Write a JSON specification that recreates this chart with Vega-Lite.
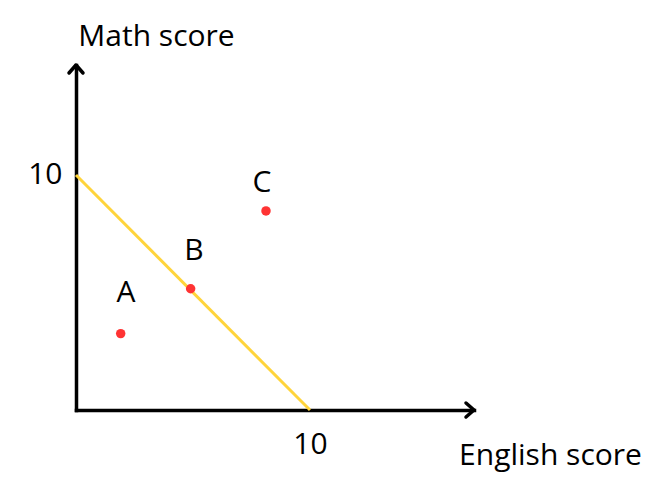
{
  "$schema": "https://vega.github.io/schema/vega-lite/v6.json",
  "width": 398,
  "height": 345,
  "autosize": "none",
  "padding": {"left": 76, "top": 65, "right": 188, "bottom": 79},
  "background": "white",
  "config": {
    "view": {"stroke": null},
    "font": "Open Sans",
    "axis": {
      "domainColor": "black",
      "domainWidth": 3.5,
      "domainCap": "square",
      "ticks": false,
      "tickSize": 0,
      "grid": false,
      "labelFontSize": 30,
      "labelColor": "black",
      "labelFont": "Open Sans",
      "labelFlush": false,
      "labelOverlap": false,
      "titleFontSize": 30,
      "titleFontWeight": "normal",
      "titleColor": "black",
      "titleFont": "Open Sans"
    }
  },
  "layer": [
    {
      "data": {"values": [{"x": 0, "y": 10, "x2": 10, "y2": 0}]},
      "mark": {"type": "rule", "color": "#FFD43B", "strokeWidth": 3},
      "encoding": {
        "x": {
          "field": "x", "type": "quantitative",
          "scale": {"domain": [0, 17.01], "nice": false, "zero": false},
          "axis": {
            "title": "English score",
            "values": [10],
            "labelPadding": 43,
            "labelBaseline": "alphabetic",
            "titleX": 474,
            "titleY": 54,
            "titleAlign": "center",
            "titleBaseline": "alphabetic",
            "titleAnchor": null
          }
        },
        "y": {
          "field": "y", "type": "quantitative",
          "scale": {"domain": [0, 14.68], "nice": false, "zero": false},
          "axis": {
            "title": "Math score",
            "values": [10],
            "labelPadding": 14,
            "labelBaseline": "middle",
            "titleAngle": 0,
            "titleX": 80,
            "titleY": -20,
            "titleAlign": "center",
            "titleBaseline": "alphabetic",
            "titleAnchor": null
          }
        },
        "x2": {"field": "x2"},
        "y2": {"field": "y2"}
      }
    },
    {
      "data": {"values": [
        {"label": "A", "x": 1.91, "y": 3.25, "lx": 2.14, "ly": 4.98},
        {"label": "B", "x": 4.9, "y": 5.16, "lx": 5.04, "ly": 6.77},
        {"label": "C", "x": 8.12, "y": 8.47, "lx": 7.95, "ly": 9.66}
      ]},
      "layer": [
        {
          "mark": {"type": "point", "shape": "circle", "filled": true, "size": 90, "color": "#FF3333", "opacity": 1},
          "encoding": {
            "x": {"field": "x", "type": "quantitative"},
            "y": {"field": "y", "type": "quantitative"}
          }
        },
        {
          "mark": {"type": "text", "fontSize": 30, "font": "Open Sans", "color": "black", "baseline": "middle", "align": "center"},
          "encoding": {
            "x": {"field": "lx", "type": "quantitative"},
            "y": {"field": "ly", "type": "quantitative"},
            "text": {"field": "label"}
          }
        }
      ]
    },
    {
      "data": {"values": [{"x": 17.01, "y": 0}]},
      "mark": {"type": "point", "shape": "M -1 -0.875 L 0 0 L -1 0.875", "filled": false, "stroke": "black", "strokeWidth": 3.5, "size": 256, "opacity": 1, "clip": false, "strokeCap": "round", "strokeJoin": "round"},
      "encoding": {
        "x": {"field": "x", "type": "quantitative"},
        "y": {"field": "y", "type": "quantitative"}
      }
    },
    {
      "data": {"values": [{"x": 0, "y": 14.68}]},
      "mark": {"type": "point", "shape": "M -0.875 1 L 0 0 L 0.875 1", "filled": false, "stroke": "black", "strokeWidth": 3.5, "size": 256, "opacity": 1, "clip": false, "strokeCap": "round", "strokeJoin": "round"},
      "encoding": {
        "x": {"field": "x", "type": "quantitative"},
        "y": {"field": "y", "type": "quantitative"}
      }
    }
  ]
}
